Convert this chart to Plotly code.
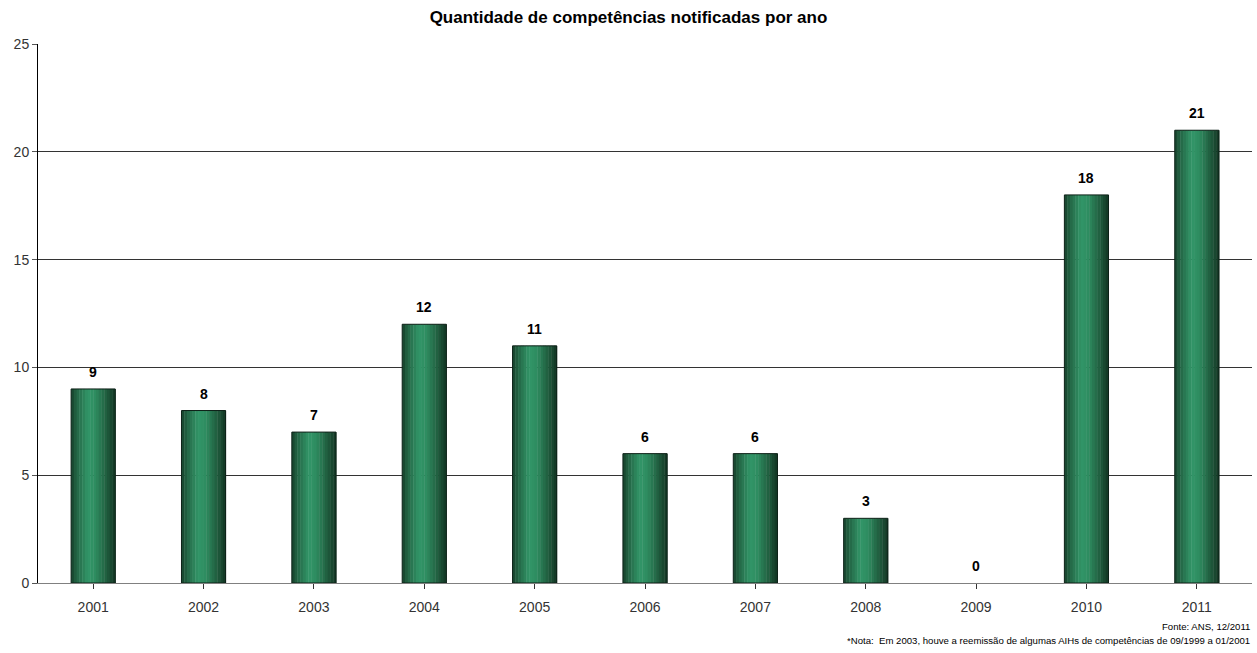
import plotly.graph_objects as go

years = ["2001", "2002", "2003", "2004", "2005", "2006", "2007", "2008", "2009", "2010", "2011"]
counts = [9, 8, 7, 12, 11, 6, 6, 3, 0, 18, 21]

title_text = "Quantidade de competências notificadas por ano"
source_text = "Fonte: ANS, 12/2011"
note_text = "*Nota:  Em 2003, houve a reemissão de algumas AIHs de competências de 09/1999 a 01/2001"

FONT = "Arial, Liberation Sans, sans-serif"
x = list(range(len(years)))

# horizontal gradient stops across the bar (position 0..1, rgb)
stops = [(0.0, (22, 64, 42)), (0.12, (35, 100, 68)), (0.38, (50, 150, 104)),
         (0.55, (46, 140, 96)), (0.8, (32, 94, 63)), (1.0, (18, 52, 34))]

def interp(t):
    for (p0, c0), (p1, c1) in zip(stops[:-1], stops[1:]):
        if p0 <= t <= p1:
            f = (t - p0) / (p1 - p0) if p1 > p0 else 0
            return "rgb(%d,%d,%d)" % tuple(round(a + (b - a) * f) for a, b in zip(c0, c1))
    return "rgb(%d,%d,%d)" % stops[-1][1]

BW = 0.4
N = 16
fig = go.Figure()
sw = BW / N
for i in range(N):
    t = (i + 0.5) / N
    fig.add_trace(go.Bar(
        x=x, y=counts, width=sw * 1.15, offset=-BW / 2 + i * sw,
        marker=dict(color=interp(t), line=dict(width=0)),
        hoverinfo="skip", showlegend=False))
# outline (no outline for zero-height bars)
fig.add_trace(go.Bar(
    x=x, y=counts, width=BW, offset=-BW / 2,
    marker=dict(color="rgba(0,0,0,0)",
                line=dict(color="#0d2017", width=[1 if v > 0 else 0 for v in counts])),
    showlegend=False))

for xi, v in zip(x, counts):
    fig.add_annotation(x=xi, y=v, text="<b>%d</b>" % v, showarrow=False,
                       yanchor="bottom", yshift=7,
                       font=dict(family=FONT, size=14, color="#000"))

fig.add_annotation(xref="paper", yref="paper", x=1, y=-0.0816, xanchor="right", yanchor="middle",
                   text=source_text, showarrow=False, font=dict(family=FONT, size=9.6, color="#000"))
fig.add_annotation(xref="paper", yref="paper", x=1, y=-0.1076, xanchor="right", yanchor="middle",
                   text=note_text, showarrow=False, font=dict(family=FONT, size=9.6, color="#000"))

fig.update_layout(
    barmode="overlay",
    width=1257, height=653,
    margin=dict(l=38, r=5, t=44, b=70),
    paper_bgcolor="white", plot_bgcolor="white",
    title=dict(text="<b>" + title_text + "</b>", x=0.5, xanchor="center", y=0.974, yanchor="middle",
               font=dict(family=FONT, size=17, color="#000")),
    font=dict(family=FONT, size=14, color="#333"),
    xaxis=dict(tickmode="array", tickvals=x, ticktext=years, range=[-0.5, len(years) - 0.5],
               showline=True, linecolor="#808080", linewidth=1, ticks="outside", tickson="boundaries",
               ticklen=5, tickcolor="#333", showgrid=False, tickfont=dict(size=14, color="#333"),
               ticklabelstandoff=6),
    yaxis=dict(range=[0, 25], dtick=5, showgrid=True, gridcolor="#333", gridwidth=1,
               showline=True, linecolor="#000", linewidth=1, ticks="outside", ticklen=5,
               tickcolor="#555", zeroline=False, tickfont=dict(size=14, color="#333")),
)

fig.write_html("out.html")
